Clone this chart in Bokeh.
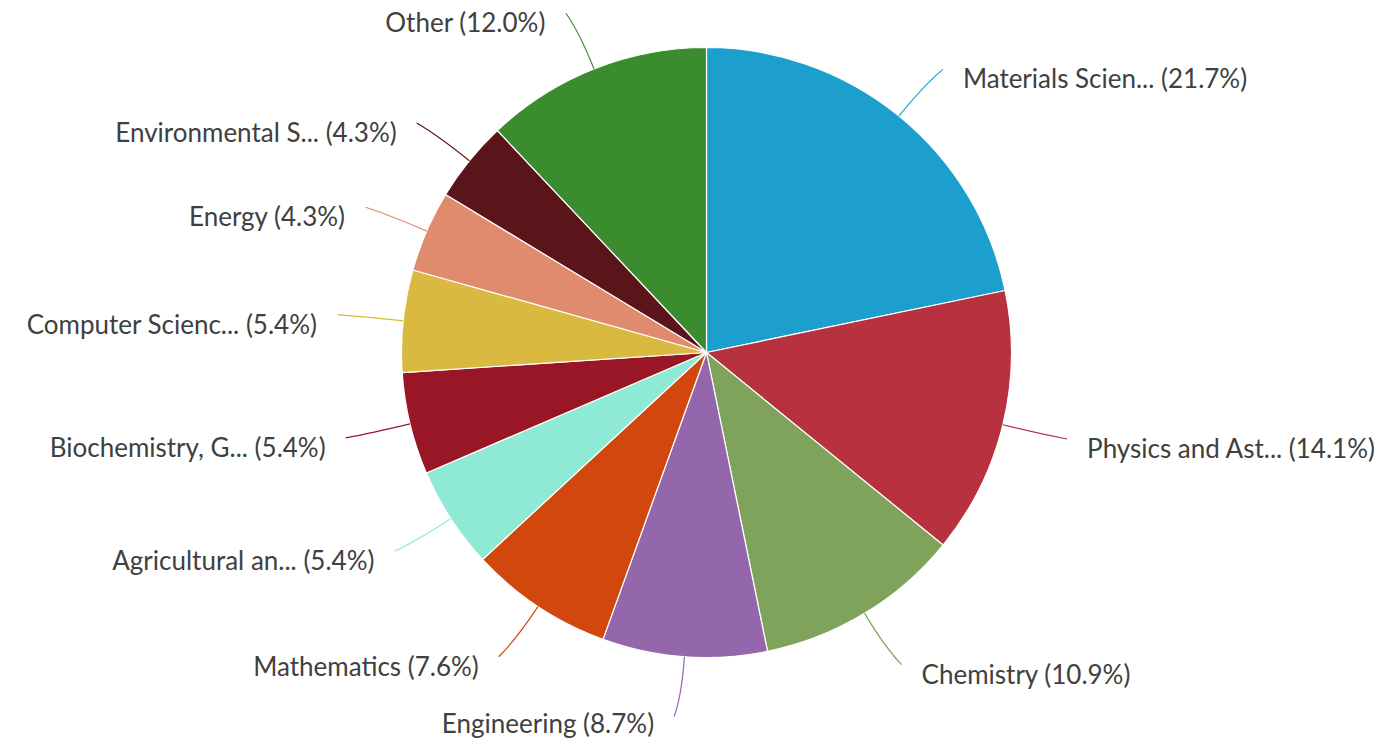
import math
from bokeh.plotting import figure
from bokeh.models import Range1d
from bokeh.core.properties import value
from bokeh.embed import file_html
from bokeh.resources import INLINE

categories = ["Materials Scien...", "Physics and Ast...", "Chemistry", "Engineering",
              "Mathematics", "Agricultural an...", "Biochemistry, G...", "Computer Scienc...",
              "Energy", "Environmental S...", "Other"]
shares = [21.7, 14.1, 10.9, 8.7, 7.6, 5.4, 5.4, 5.4, 4.3, 4.3, 12.0]
colors = ["#1c9fcd", "#b8313f", "#7fa35a", "#9467ad", "#d1470e", "#8eead4",
          "#991626", "#d9b93f", "#e08b6d", "#5a151b", "#3b8b2f"]

W, H = 1381, 740
IMG_H = 740
cx, cy = 706, IMG_H - 352
R = 305

p = figure(width=W, height=H, output_backend="svg", toolbar_location=None,
           x_range=Range1d(0, W), y_range=Range1d(IMG_H - H, IMG_H),
           min_border=0)
p.axis.visible = False
p.grid.visible = False
p.outline_line_color = None
p.background_fill_color = "white"

total = sum(shares)
cum = 0.0
starts, ends, mids = [], [], []
for s in shares:
    a0 = math.pi / 2 - 2 * math.pi * cum / total
    cum += s
    a1 = math.pi / 2 - 2 * math.pi * cum / total
    starts.append(a0)
    ends.append(a1)
    mids.append((a0 + a1) / 2)

p.wedge(x=[cx] * len(shares), y=[cy] * len(shares), radius=R,
        start_angle=starts, end_angle=ends, direction="clock",
        fill_color=colors, line_color="white", line_width=1.2)

# leader lines and labels
for name, s, m, c in zip(categories, shares, mids, colors):
    dx, dy = math.cos(m), math.sin(m)
    x0, y0 = cx + R * dx, cy + R * dy
    xc, yc = cx + (R + 40) * dx, cy + (R + 40) * dy
    side = 1 if dx > 0 else -1
    x1 = cx + (R + 60) * dx + side * 6
    y1 = cy + (R + 60) * dy
    p.quadratic(x0=[x0], y0=[y0], x1=[x1], y1=[y1], cx=[xc], cy=[yc],
                line_color=c, line_width=1.2)
    tx = x1 + side * 20
    ty = max(y1 - 9, IMG_H - 722)
    p.text(x=[tx], y=[ty], text=[f"{name} ({s:.1f}%)"],
           text_align="left" if side > 0 else "right", text_baseline="middle",
           text_font=value("Lato"), text_font_size="26px", text_color="#404040")

open("out.html", "w").write(file_html(p, INLINE))
